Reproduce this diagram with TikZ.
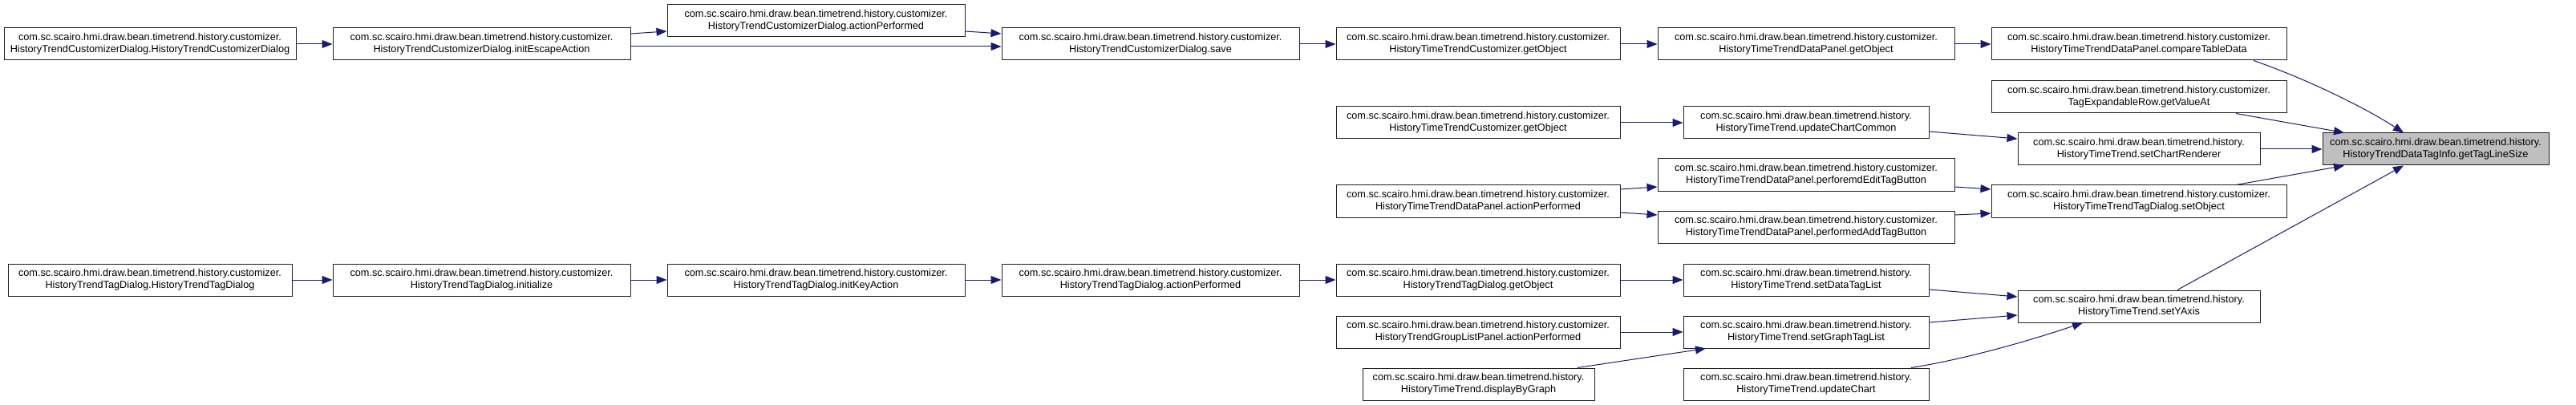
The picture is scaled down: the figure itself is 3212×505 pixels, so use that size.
\documentclass[tikz,border=0pt]{standalone}
\usepackage{fontspec}
\setmainfont{Liberation Sans}
\usetikzlibrary{arrows.meta}
\definecolor{edgeblue}{HTML}{191970}
\definecolor{mainfill}{HTML}{BFBFBF}
\definecolor{boxline}{HTML}{202020}
\begin{document}
\begin{tikzpicture}[x=1pt,y=-1pt,
  box/.style={draw=boxline, line width=1pt, minimum height=40pt, inner sep=0pt, align=center,
    font=\fontsize{12.7pt}{15pt}\selectfont, fill=white},
  mainbox/.style={box, fill=mainfill, draw=boxline},
  call/.style={draw=edgeblue, line width=1pt, -{Triangle[length=13pt,width=10pt]}}
]
\fill[white] (0,0) rectangle (3212,505);
\useasboundingbox (0,0) rectangle (3212,505);

% column 1
\node[box, minimum width=364pt] (cdctor) at (187,55) {com.sc.scairo.hmi.draw.bean.timetrend.history.customizer.\\HistoryTrendCustomizerDialog.HistoryTrendCustomizerDialog};
\node[box, minimum width=354pt] (tdctor) at (187,349) {com.sc.scairo.hmi.draw.bean.timetrend.history.customizer.\\HistoryTrendTagDialog.HistoryTrendTagDialog};
% column 2
\node[box, minimum width=371pt] (iea) at (600.5,55) {com.sc.scairo.hmi.draw.bean.timetrend.history.customizer.\\HistoryTrendCustomizerDialog.initEscapeAction};
\node[box, minimum width=371pt] (ini) at (600.5,349) {com.sc.scairo.hmi.draw.bean.timetrend.history.customizer.\\HistoryTrendTagDialog.initialize};
% column 3
\node[box, minimum width=371pt] (cap) at (1017.5,26) {com.sc.scairo.hmi.draw.bean.timetrend.history.customizer.\\HistoryTrendCustomizerDialog.actionPerformed};
\node[box, minimum width=371pt] (ika) at (1017.5,349) {com.sc.scairo.hmi.draw.bean.timetrend.history.customizer.\\HistoryTrendTagDialog.initKeyAction};
% column 4
\node[box, minimum width=371pt] (sav) at (1434.5,55) {com.sc.scairo.hmi.draw.bean.timetrend.history.customizer.\\HistoryTrendCustomizerDialog.save};
\node[box, minimum width=371pt] (tap) at (1434.5,349) {com.sc.scairo.hmi.draw.bean.timetrend.history.customizer.\\HistoryTrendTagDialog.actionPerformed};
% column 5
\node[box, minimum width=354pt] (hgo1) at (1843,55) {com.sc.scairo.hmi.draw.bean.timetrend.history.customizer.\\HistoryTimeTrendCustomizer.getObject};
\node[box, minimum width=354pt] (hgo2) at (1843,153) {com.sc.scairo.hmi.draw.bean.timetrend.history.customizer.\\HistoryTimeTrendCustomizer.getObject};
\node[box, minimum width=354pt] (dpa) at (1843,251) {com.sc.scairo.hmi.draw.bean.timetrend.history.customizer.\\HistoryTimeTrendDataPanel.actionPerformed};
\node[box, minimum width=354pt] (tgo) at (1843,349) {com.sc.scairo.hmi.draw.bean.timetrend.history.customizer.\\HistoryTrendTagDialog.getObject};
\node[box, minimum width=354pt] (gla) at (1843,414) {com.sc.scairo.hmi.draw.bean.timetrend.history.customizer.\\HistoryTrendGroupListPanel.actionPerformed};
\node[box, minimum width=289pt] (dbg) at (1843.5,479) {com.sc.scairo.hmi.draw.bean.timetrend.history.\\HistoryTimeTrend.displayByGraph};
% column 6
\node[box, minimum width=370pt] (dgo) at (2252,55) {com.sc.scairo.hmi.draw.bean.timetrend.history.customizer.\\HistoryTimeTrendDataPanel.getObject};
\node[box, minimum width=306pt] (ucc) at (2252,153) {com.sc.scairo.hmi.draw.bean.timetrend.history.\\HistoryTimeTrend.updateChartCommon};
\node[box, minimum width=370pt] (pet) at (2252,218) {com.sc.scairo.hmi.draw.bean.timetrend.history.customizer.\\HistoryTimeTrendDataPanel.perforemdEditTagButton};
\node[box, minimum width=370pt] (pat) at (2252,283) {com.sc.scairo.hmi.draw.bean.timetrend.history.customizer.\\HistoryTimeTrendDataPanel.performedAddTagButton};
\node[box, minimum width=306pt] (sdt) at (2252,349) {com.sc.scairo.hmi.draw.bean.timetrend.history.\\HistoryTimeTrend.setDataTagList};
\node[box, minimum width=306pt] (sgt) at (2252,414) {com.sc.scairo.hmi.draw.bean.timetrend.history.\\HistoryTimeTrend.setGraphTagList};
\node[box, minimum width=306pt] (uch) at (2252,479) {com.sc.scairo.hmi.draw.bean.timetrend.history.\\HistoryTimeTrend.updateChart};
% column 7
\node[box, minimum width=368pt] (ctd) at (2667,55) {com.sc.scairo.hmi.draw.bean.timetrend.history.customizer.\\HistoryTimeTrendDataPanel.compareTableData};
\node[box, minimum width=368pt] (gva) at (2667,121) {com.sc.scairo.hmi.draw.bean.timetrend.history.customizer.\\TagExpandableRow.getValueAt};
\node[box, minimum width=302pt] (scr) at (2667,186) {com.sc.scairo.hmi.draw.bean.timetrend.history.\\HistoryTimeTrend.setChartRenderer};
\node[box, minimum width=368pt] (sob) at (2667,251) {com.sc.scairo.hmi.draw.bean.timetrend.history.customizer.\\HistoryTimeTrendTagDialog.setObject};
\node[box, minimum width=302pt] (sya) at (2667,382) {com.sc.scairo.hmi.draw.bean.timetrend.history.\\HistoryTimeTrend.setYAxis};
% main
\node[mainbox, minimum width=282pt] (main) at (3037,186) {com.sc.scairo.hmi.draw.bean.timetrend.history.\\HistoryTrendDataTagInfo.getTagLineSize};

% edges
\draw[call] (cdctor.east) -- (iea.west);
\draw[call] ([yshift=13pt]iea.east) -- ([yshift=-13pt]cap.west);
\draw[call] ([yshift=-3pt]iea.east) -- ([yshift=-3pt]sav.west);
\draw[call] ([yshift=-13pt]cap.east) -- ([yshift=13pt]sav.west);
\draw[call] (sav.east) -- (hgo1.west);
\draw[call] (hgo1.east) -- (dgo.west);
\draw[call] (dgo.east) -- (ctd.west);
\draw[call] ([xshift=143pt]ctd.south) .. controls (2880,100) and (2950,135) .. ([xshift=-40pt]main.north);
\draw[call] ([xshift=121pt]gva.south) -- ([xshift=-114pt]main.north);
\draw[call] (scr.east) -- (main.west);
\draw[call] ([xshift=121pt]sob.north) -- ([xshift=-114pt]main.south);
\draw[call] ([xshift=48pt]sya.north) -- ([xshift=-40pt]main.south);
\draw[call] (hgo2.east) -- (ucc.west);
\draw[call] ([yshift=-11pt]ucc.east) -- ([yshift=13pt]scr.west);
\draw[call] ([yshift=15pt]dpa.east) -- ([yshift=-15pt]pet.west);
\draw[call] ([yshift=-14pt]dpa.east) -- ([yshift=15pt]pat.west);
\draw[call] ([yshift=-15pt]pet.east) -- ([yshift=15pt]sob.west);
\draw[call] ([yshift=15pt]pat.east) -- ([yshift=-15pt]sob.west);
\draw[call] (tdctor.east) -- (ini.west);
\draw[call] (ini.east) -- (ika.west);
\draw[call] (ika.east) -- (tap.west);
\draw[call] (tap.east) -- (tgo.west);
\draw[call] (tgo.east) -- (sdt.west);
\draw[call] (gla.east) -- (sgt.west);
\draw[call] ([xshift=123.5pt]dbg.north) -- ([xshift=-125pt]sgt.south);
\draw[call] ([yshift=-12pt]sdt.east) -- ([yshift=12pt]sya.west);
\draw[call] ([yshift=12pt]sgt.east) -- ([yshift=-11pt]sya.west);
\draw[call] ([xshift=131pt]uch.north) .. controls (2450,448) and (2530,425) .. ([xshift=-70pt]sya.south);
\end{tikzpicture}
\end{document}
